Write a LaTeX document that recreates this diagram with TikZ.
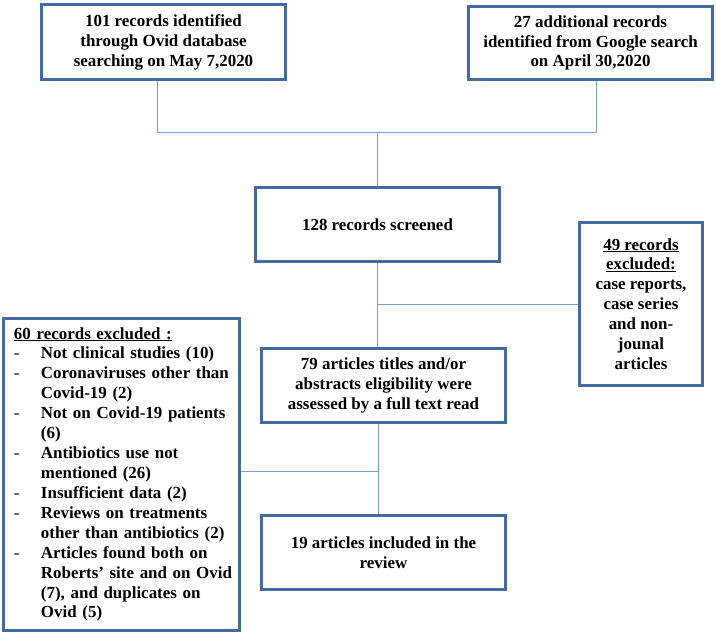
\documentclass[tikz,border=0pt]{standalone}
\usepackage{fontspec}
\setmainfont{Liberation Serif}
\definecolor{boxblue}{RGB}{68,106,162}
\definecolor{linkblue}{RGB}{122,158,206}
\begin{document}
\begin{tikzpicture}[x=1bp,y=-1bp,
  box/.style={draw=boxblue,line width=3bp,fill=white,align=center,inner sep=2bp,
    font=\fontsize{17}{20}\selectfont\bfseries},
  conn/.style={draw=linkblue,line width=1bp}]
\useasboundingbox (0,0) rectangle (716,635);
\node[box,minimum width=244bp,minimum height=75bp] (b1) at (163.5,42)
  {101 records identified\\through Ovid database\\searching on May 7,2020};
\node[box,minimum width=244bp,minimum height=73bp] (b2) at (590.5,43)
  {27 additional records\\identified from Google search\\on April 30,2020};
\node[box,minimum width=244bp,minimum height=74bp] (b3) at (377.5,224.5)
  {128 records screened};
\node[box,minimum width=123bp,minimum height=163bp] (b4) at (641,304)
  {\underline{49 records}\\\underline{excluded:}\\case reports,\\case series\\and non-\\jounal\\articles};
\node[box,minimum width=244bp,minimum height=74bp] (b5) at (383.5,385.5)
  {79 articles titles and/or\\abstracts eligibility were\\assessed by a full text read};
\node[box,minimum width=244bp,minimum height=74bp] (b6) at (383.5,552.5)
  {19 articles included in the\\review};
\node[box,minimum width=236bp,minimum height=312bp,align=left,
  inner xsep=10bp,text width=215bp] (b7) at (121.5,474.5)
  {\begin{tabular}{@{}p{27bp}@{}l@{}}
  \multicolumn{2}{@{}l@{}}{\underline{60 records excluded :}}\\
  \mdseries - & Not clinical studies (10)\\
  \mdseries - & Coronaviruses other than\\
   & Covid-19 (2)\\
  \mdseries - & Not on Covid-19 patients\\
   & (6)\\
  \mdseries - & Antibiotics use not\\
   & mentioned (26)\\
  \mdseries - & Insufficient data (2)\\
  \mdseries - & Reviews on treatments\\
   & other than antibiotics (2)\\
  \mdseries - & Articles found both on\\
   & Roberts’ site and on Ovid\\
   & (7), and duplicates on\\
   & Ovid (5)
  \end{tabular}};
\coordinate (j1) at (157,133);
\coordinate (j2) at (596,133);
\coordinate (j3) at (377,133);
\coordinate (j4) at (377,304);
\coordinate (j5) at (378,471);
\draw[conn] (b1.south -| j1) -- (j1) -- (j2) -- (b2.south -| j2);
\draw[conn] (j3) -- (b3.north -| j3);
\draw[conn] (b3.south -| j4) -- (b5.north -| j4);
\draw[conn] (j4) -- (b4.west |- j4);
\draw[conn] (b5.south -| j5) -- (b6.north -| j5);
\draw[conn] (j5) -- (b7.east |- j5);
\end{tikzpicture}
\end{document}
